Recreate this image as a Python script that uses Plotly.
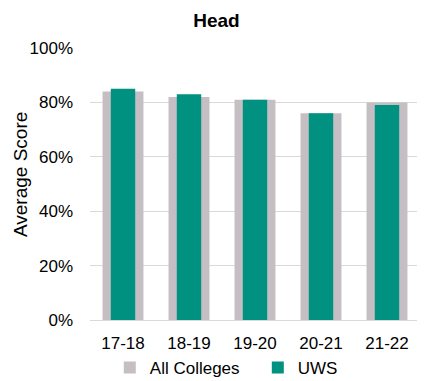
import plotly.graph_objects as go

categories = ["17-18", "18-19", "19-20", "20-21", "21-22"]
all_colleges = [0.84, 0.82, 0.81, 0.76, 0.80]
uws = [0.85, 0.83, 0.81, 0.76, 0.79]

fig = go.Figure()
fig.add_trace(go.Bar(x=categories, y=all_colleges, name="All Colleges",
                     marker_color="#C5BFC4", width=0.62, marker_line_width=0))
fig.add_trace(go.Bar(x=categories, y=uws, name="UWS",
                     marker_color="#009180", width=0.37, marker_line_width=0))

# page has an 8px body margin, so the figure is sized/offset to compensate
fig.update_layout(
    barmode="overlay",
    width=417, height=373,
    margin=dict(l=82, r=5, t=40, b=61, autoexpand=False),
    paper_bgcolor="white", plot_bgcolor="white",
    font=dict(family="Liberation Sans, Arial, sans-serif", color="#000000", size=17),
    title=dict(text="<b>Head</b>", x=0.5, xanchor="center", y=0.968, yanchor="middle",
               font=dict(size=19, color="#000000")),
    showlegend=True,
    legend=dict(orientation="h", x=0.06, xanchor="left", y=-0.11, yanchor="top",
                font=dict(size=17), itemwidth=30, traceorder="normal",
                tracegroupgap=0, entrywidth=103, entrywidthmode="pixels"),
    xaxis=dict(showgrid=False, showline=True, linecolor="#d9d9d9", linewidth=1,
               ticks="", tickfont=dict(size=17), ticklabelstandoff=8, automargin=False),
    yaxis=dict(range=[0, 1.0], dtick=0.2, tickformat=".0%", showgrid=True,
               gridcolor="#d9d9d9", gridwidth=1, zeroline=False, showline=False,
               ticks="", tickfont=dict(size=17), ticklabelstandoff=16, automargin=False),
    annotations=[dict(text="Average Score", textangle=-90, xref="paper", yref="paper",
                      x=-0.212, y=0.533, xanchor="center", yanchor="middle",
                      showarrow=False, font=dict(size=19, color="#000000"))],
)

fig.write_html("out.html")
